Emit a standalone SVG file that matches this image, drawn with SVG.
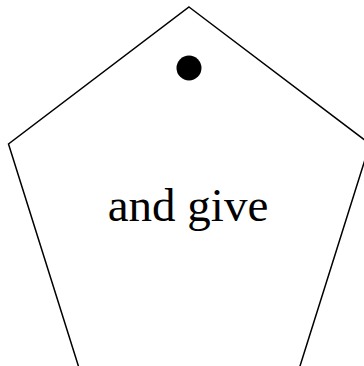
<svg xmlns="http://www.w3.org/2000/svg" width="364" height="366" viewBox="0 0 364 366">
<style>
.shape{fill:none;stroke:#000;stroke-width:1.5;stroke-linejoin:miter}
.lbl{font-family:"Liberation Serif","Times New Roman",serif;font-size:47px;fill:#000}
</style>
<rect width="364" height="366" fill="#fff"/>
<g id="pentagon">
<polygon class="shape" points="189,7 369.9,144 298.6,370.5 79.8,370.5 8.5,144"/>
<circle cx="189" cy="68" r="12.5" fill="#000"/>
<text class="lbl" x="188" y="221" text-anchor="middle">and give</text>
</g>
<g id="connectors"/>
</svg>
